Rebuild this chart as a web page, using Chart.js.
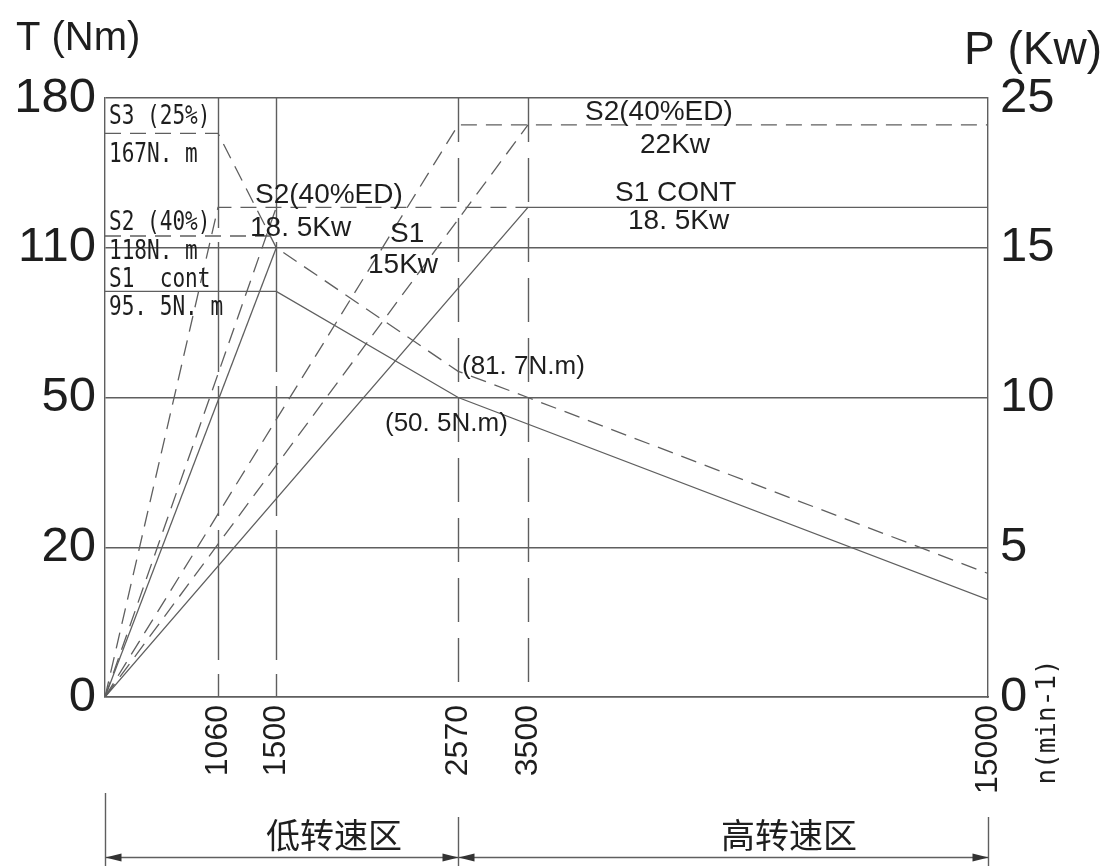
<!DOCTYPE html>
<html>
<head>
<meta charset="utf-8">
<script src="https://cdn.jsdelivr.net/npm/chart.js@4"></script>
<style>
  html, body { margin: 0; background: #fff; }
</style>
</head>
<body>
<canvas id="chart" width="1106" height="866"></canvas>
<script>
// speed axis is drawn schematically: each break gets its own share of the width
const speedBreaks = [0, 1060, 1500, 2570, 3500, 15000];
const speedStops = [0, 0.128, 0.194, 0.400, 0.479, 1];
const speedTicks = [1060, 1500, 2570, 3500, 15000];
const torqueTicks = [0, 20, 50, 110, 180];
const powerTicks = [0, 5, 10, 15, 25];
const evenStops = [0, 0.25, 0.5, 0.75, 1];

// torque curves (Nm)
const s1TorqueSpeed = [0, 1500, 2570, 15000];
const s1Torque = [92.5, 92.5, 50, 13];
const s3TorqueSpeed = [0, 1060, 1500, 2570, 3500, 15000];
const s3Torque = [163.5, 163.5, 110, 60.5, 50, 16.5];
const s2TorqueSpeed = [0, 1455];
const s2Torque = [115.5, 115.5];

// power curves (kW)
const s3PowerSpeed = [0, 1060, 3500];
const s3Power = [0, 17.7, 17.7];
const s2PowerSpeed = [0, 1500];
const s2Power = [0, 17.7];
const s1PowerSpeed = [0, 1500];
const s1Power = [0, 15];
const s1ContSpeed = [0, 3500, 15000];
const s1Cont = [0, 17.7, 17.7];
const s2EdSpeed = [0, 2570, 15000];
const s2Ed = [0, 23.2, 23.2];
const s2EdBSpeed = [0, 3500];
const s2EdB = [0, 23.2];

const LINE = '#5f5f5f';
const INK = '#1e1e1e';

const scaleMaps = {
  x: { breaks: speedBreaks, stops: speedStops, ticks: speedTicks },
  y: { breaks: torqueTicks, stops: evenStops, ticks: torqueTicks },
  y1: { breaks: powerTicks, stops: evenStops, ticks: powerTicks }
};

// linear scale that is piecewise between the break values
class BrokenScale extends Chart.LinearScale {
  buildTicks() {
    return scaleMaps[this.id].ticks.map(v => ({ value: v }));
  }
  toDecimal(v) {
    const { breaks, stops } = scaleMaps[this.id];
    if (v <= breaks[0]) return stops[0];
    for (let i = 1; i < breaks.length; i++) {
      if (v <= breaks[i]) {
        const t = (v - breaks[i - 1]) / (breaks[i] - breaks[i - 1]);
        return stops[i - 1] + t * (stops[i] - stops[i - 1]);
      }
    }
    return 1;
  }
  getPixelForValue(v) {
    if (v === null || v === undefined) return NaN;
    return this.getPixelForDecimal(this.toDecimal(v));
  }
  getValueForPixel(p) {
    const { breaks, stops } = scaleMaps[this.id];
    const d = this.getDecimalForPixel(p);
    for (let i = 1; i < stops.length; i++) {
      if (d <= stops[i]) {
        const t = (d - stops[i - 1]) / (stops[i] - stops[i - 1]);
        return breaks[i - 1] + t * (breaks[i] - breaks[i - 1]);
      }
    }
    return breaks[breaks.length - 1];
  }
}
BrokenScale.id = 'broken';
BrokenScale.defaults = Chart.LinearScale.defaults;
Chart.register(BrokenScale);

function pts(xs, ys) {
  return xs.map((x, i) => ({ x: x, y: ys[i] }));
}

function curve(label, xs, ys, axis, dashed) {
  return {
    label: label,
    data: pts(xs, ys),
    yAxisID: axis,
    borderColor: LINE,
    borderWidth: 1.3,
    borderDash: dashed ? [16, 9] : [],
    pointRadius: 0,
    tension: 0,
    fill: false
  };
}

function text(ctx, s, x, y, font, align) {
  ctx.font = font;
  ctx.textAlign = align || 'left';
  ctx.fillText(s, x, y);
}

// the drawing uses a narrow CAD lettering for the left-hand notes
function narrow(ctx, s, x, y) {
  ctx.save();
  ctx.translate(x, y);
  ctx.scale(0.78, 1);
  ctx.font = '27px "DejaVu Sans Mono"';
  ctx.textAlign = 'left';
  ctx.fillText(s, 0, 0);
  ctx.restore();
}

const SANS = '28px "Liberation Sans", Arial, sans-serif';

const extras = {
  id: 'extras',
  beforeDatasetsDraw(chart) {
    const { ctx, chartArea: a, scales: { x } } = chart;
    ctx.save();
    ctx.strokeStyle = LINE;
    ctx.lineWidth = 1.4;
    speedTicks.forEach(v => {
      if (v === speedTicks[speedTicks.length - 1]) return;
      const px = Math.round(x.getPixelForValue(v)) + 0.5;
      ctx.setLineDash(v < 2000 ? [130, 14] : [44, 16]);
      ctx.beginPath();
      ctx.moveTo(px, a.top);
      ctx.lineTo(px, a.bottom);
      ctx.stroke();
    });
    ctx.restore();
  },
  afterDraw(chart) {
    const { ctx, scales: { x } } = chart;
    ctx.save();
    ctx.fillStyle = INK;
    ctx.textBaseline = 'alphabetic';

    // axis titles
    text(ctx, 'T (Nm)', 16, 50, '40px "Liberation Sans", Arial, sans-serif');
    text(ctx, 'P (Kw)', 1102, 64, '46px "Liberation Sans", Arial, sans-serif', 'right');

    ctx.save();
    ctx.translate(1048, 722);
    ctx.rotate(-Math.PI / 2);
    ctx.textBaseline = 'middle';
    text(ctx, 'n(min-1)', 0, 0, '26px "DejaVu Sans Mono"', 'center');
    ctx.restore();

    // labels on the curves
    narrow(ctx, 'S3 (25%)', 109, 124);
    narrow(ctx, '167N. m', 109, 162);
    narrow(ctx, 'S2 (40%)', 109, 230);
    narrow(ctx, '118N. m', 109, 259);
    narrow(ctx, 'S1  cont', 109, 287);
    narrow(ctx, '95. 5N. m', 109, 315);
    text(ctx, 'S2(40%ED)', 255, 203, SANS);
    text(ctx, '18. 5Kw', 250, 236, SANS);
    text(ctx, 'S1', 390, 242, SANS);
    text(ctx, '15Kw', 368, 273, SANS);
    text(ctx, 'S2(40%ED)', 585, 120, SANS);
    text(ctx, '22Kw', 640, 153, SANS);
    text(ctx, 'S1 CONT', 615, 201, SANS);
    text(ctx, '18. 5Kw', 628, 229, SANS);
    text(ctx, '(81. 7N.m)', 462, 374, '26px "Liberation Sans", Arial, sans-serif');
    text(ctx, '(50. 5N.m)', 385, 431, '26px "Liberation Sans", Arial, sans-serif');

    // speed range dimension line at the bottom
    const x0 = Math.round(x.getPixelForValue(0)) + 0.5;
    const xm = Math.round(x.getPixelForValue(2570)) + 0.5;
    const x1 = Math.round(x.getPixelForValue(15000)) + 0.5;
    const yl = 857.5;
    ctx.strokeStyle = LINE;
    ctx.lineWidth = 1.4;
    ctx.beginPath();
    ctx.moveTo(x0, 793); ctx.lineTo(x0, 866);
    ctx.moveTo(xm, 817); ctx.lineTo(xm, 866);
    ctx.moveTo(x1, 817); ctx.lineTo(x1, 866);
    ctx.moveTo(x0, yl); ctx.lineTo(x1, yl);
    ctx.stroke();
    const arrow = (tip, dir) => {
      ctx.beginPath();
      ctx.moveTo(tip, yl);
      ctx.lineTo(tip + dir * 16, yl - 4);
      ctx.lineTo(tip + dir * 16, yl + 4);
      ctx.closePath();
      ctx.fill();
    };
    ctx.fillStyle = '#333';
    arrow(x0, 1);
    arrow(xm, -1);
    arrow(xm, 1);
    arrow(x1, -1);

    ctx.fillStyle = INK;
    const cjk = '34px "Noto Sans CJK SC", sans-serif';
    text(ctx, '低转速区', 334, 848, cjk, 'center');
    text(ctx, '高转速区', 789, 848, cjk, 'center');
    ctx.restore();
  }
};

const tickFont = { family: '"Liberation Sans", Arial, sans-serif', size: 49 };

new Chart(document.getElementById('chart'), {
  type: 'line',
  data: {
    datasets: [
      curve('S1 torque', s1TorqueSpeed, s1Torque, 'y', false),
      curve('S3 torque', s3TorqueSpeed, s3Torque, 'y', true),
      curve('S2 torque', s2TorqueSpeed, s2Torque, 'y', true),
      curve('S3 power', s3PowerSpeed, s3Power, 'y1', true),
      curve('S2 power', s2PowerSpeed, s2Power, 'y1', true),
      curve('S1 power', s1PowerSpeed, s1Power, 'y1', false),
      curve('S1 cont power', s1ContSpeed, s1Cont, 'y1', false),
      curve('S2 40%ED power', s2EdSpeed, s2Ed, 'y1', true),
      curve('S2 40%ED power b', s2EdBSpeed, s2EdB, 'y1', true)
    ]
  },
  options: {
    responsive: false,
    animation: false,
    devicePixelRatio: 1,
    layout: { padding: { top: 98, left: 0, right: 0, bottom: 0 } },
    plugins: {
      legend: { display: false },
      tooltip: { enabled: false }
    },
    scales: {
      x: {
        type: 'broken',
        min: 0,
        max: 15000,
        afterFit: s => { s.height = 169; },
        grid: { display: false, drawTicks: false },
        border: { display: true, color: LINE, width: 1.4 },
        ticks: {
          autoSkip: false,
          minRotation: 90,
          maxRotation: 90,
          padding: 8,
          color: INK,
          font: { family: '"Liberation Sans", Arial, sans-serif', size: 32 },
          callback: v => String(v)
        }
      },
      y: {
        type: 'broken',
        position: 'left',
        min: 0,
        max: 180,
        afterFit: s => { s.width = 105; },
        grid: { color: LINE, lineWidth: 1.4, drawTicks: false },
        border: { display: true, color: LINE, width: 1.4 },
        ticks: { padding: 9, color: INK, font: tickFont, callback: v => String(v) }
      },
      y1: {
        type: 'broken',
        position: 'right',
        min: 0,
        max: 25,
        afterFit: s => { s.width = 118; },
        grid: { drawOnChartArea: false, drawTicks: false },
        border: { display: true, color: LINE, width: 1.4 },
        ticks: { padding: 12, color: INK, font: tickFont, callback: v => String(v) }
      }
    }
  },
  plugins: [extras]
});
</script>
</body>
</html>
